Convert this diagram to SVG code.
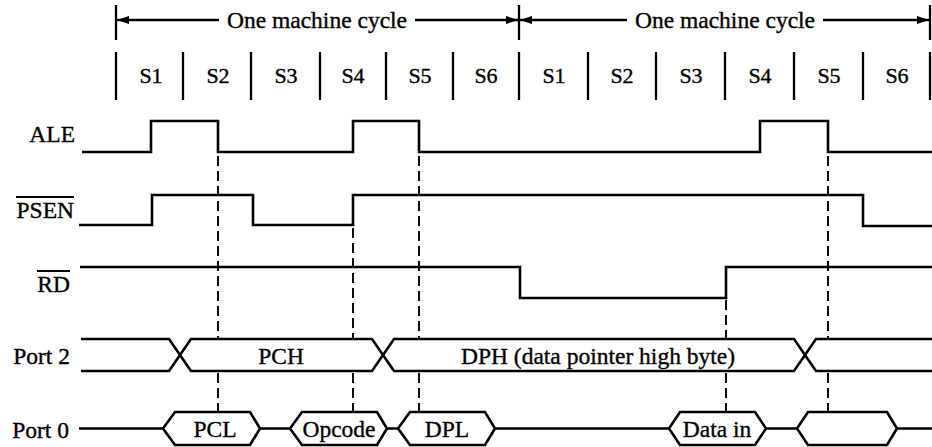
<svg xmlns="http://www.w3.org/2000/svg" width="932" height="447" viewBox="0 0 932 447">
  <style>
    text { font-family: "Liberation Serif", "Times New Roman", serif; fill: #000; stroke: #000; stroke-width: 0.35; }
    .lbl { font-size: 23.5px; }
    .st { font-size: 22px; text-anchor: middle; }
    .mid { text-anchor: middle; }
    .end { text-anchor: end; }
    .sig { fill: none; stroke: #000; stroke-width: 2.6; stroke-linejoin: miter; }
    .tick { stroke: #000; stroke-width: 2.3; }
    .dash { fill: none; stroke: #000; stroke-width: 1.9; stroke-dasharray: 10 5; }
    .ovl { stroke: #000; stroke-width: 1.9; }
  </style>
  <defs>
    <marker id="ah" viewBox="0 0 12 8" refX="12" refY="4" markerWidth="12" markerHeight="8" markerUnits="userSpaceOnUse" orient="auto">
      <path d="M0,0 L12,4 L0,8 Z" fill="#000"/>
    </marker>
  </defs>

  <!-- machine cycle ruler -->
  <g id="cycle-ruler">
    <line class="tick" x1="116" y1="5" x2="116" y2="40"/>
    <line class="tick" x1="519" y1="5" x2="519" y2="40"/>
    <line class="tick" x1="930" y1="5" x2="930" y2="40"/>
    <line class="tick" x1="219" y1="20" x2="117" y2="20" marker-end="url(#ah)"/>
    <line class="tick" x1="415" y1="20" x2="518" y2="20" marker-end="url(#ah)"/>
    <line class="tick" x1="627" y1="20" x2="520" y2="20" marker-end="url(#ah)"/>
    <line class="tick" x1="823" y1="20" x2="929" y2="20" marker-end="url(#ah)"/>
    <text class="lbl mid" x="317" y="28">One machine cycle</text>
    <text class="lbl mid" x="725" y="28">One machine cycle</text>
  </g>

  <!-- state slots S1..S6 -->
  <g id="states">
    <g class="tick">
      <line x1="116" y1="52" x2="116" y2="100"/>
      <line x1="183" y1="52" x2="183" y2="100"/>
      <line x1="251" y1="52" x2="251" y2="100"/>
      <line x1="320" y1="52" x2="320" y2="100"/>
      <line x1="386" y1="52" x2="386" y2="100"/>
      <line x1="453" y1="52" x2="453" y2="100"/>
      <line x1="519" y1="52" x2="519" y2="100"/>
      <line x1="588" y1="52" x2="588" y2="100"/>
      <line x1="656" y1="52" x2="656" y2="100"/>
      <line x1="725" y1="52" x2="725" y2="100"/>
      <line x1="794" y1="52" x2="794" y2="100"/>
      <line x1="863" y1="52" x2="863" y2="100"/>
      <line x1="930" y1="52" x2="930" y2="100"/>
    </g>
    <text class="st" x="151" y="83">S1</text>
    <text class="st" x="218" y="83">S2</text>
    <text class="st" x="286" y="83">S3</text>
    <text class="st" x="353" y="83">S4</text>
    <text class="st" x="420" y="83">S5</text>
    <text class="st" x="486" y="83">S6</text>
    <text class="st" x="554" y="83">S1</text>
    <text class="st" x="622" y="83">S2</text>
    <text class="st" x="691" y="83">S3</text>
    <text class="st" x="760" y="83">S4</text>
    <text class="st" x="829" y="83">S5</text>
    <text class="st" x="897" y="83">S6</text>
  </g>

  <!-- ALE -->
  <g id="sig-ale">
    <text class="lbl end" x="75" y="142">ALE</text>
    <path class="sig" d="M82,152 H151 V121 H218 V152 H353 V121 H419 V152 H760 V121 H828 V152 H932"/>
  </g>

  <!-- PSEN (active low) -->
  <g id="sig-psen">
    <text class="lbl end" x="74" y="218">PSEN</text>
    <line class="ovl" x1="16" y1="197" x2="74" y2="197"/>
    <path class="sig" d="M79,225 H152 V195 H253 V225 H353 V195 H863 V226 H932"/>
  </g>

  <!-- RD (active low) -->
  <g id="sig-rd">
    <text class="lbl end" x="70" y="292">RD</text>
    <line class="ovl" x1="37" y1="271" x2="70" y2="271"/>
    <path class="sig" d="M80,267 H520 V298 H726 V267 H932"/>
  </g>

  <!-- Port 2 bus -->
  <g id="sig-port2">
    <text class="lbl end" x="70" y="364">Port 2</text>
    <path class="sig" d="M81,339 H169 L191,371 H372 L394,339 H794 L816,371 H932"/>
    <path class="sig" d="M81,371 H169 L191,339 H372 L394,371 H794 L816,339 H932"/>
    <text class="lbl mid" x="281" y="364">PCH</text>
    <text class="lbl mid" x="598" y="364">DPH (data pointer high byte)</text>
  </g>

  <!-- Port 0 bus -->
  <g id="sig-port0">
    <text class="lbl end" x="69" y="438">Port 0</text>
    <path class="sig" d="M79,428.5 H163 M260,428.5 H290 M387,428.5 H398 M495,428.5 H669 M766,428.5 H797 M897,428.5 H932"/>
    <path class="sig" d="M163,428.5 L175,412 H250 L260,428.5 L250,445 H175 Z"/>
    <path class="sig" d="M290,428.5 L302,412 H377 L387,428.5 L377,445 H302 Z"/>
    <path class="sig" d="M398,428.5 L410,412 H485 L495,428.5 L485,445 H410 Z"/>
    <path class="sig" d="M669,428.5 L680,412 H755 L766,428.5 L755,445 H680 Z"/>
    <path class="sig" d="M797,428.5 L808,412 H887 L897,428.5 L887,445 H808 Z"/>
    <text class="lbl mid" x="215" y="437">PCL</text>
    <text class="lbl mid" x="339" y="437">Opcode</text>
    <text class="lbl mid" x="447" y="437">DPL</text>
    <text class="lbl mid" x="717" y="437">Data in</text>
  </g>

  <!-- dashed timing references -->
  <g id="connectors">
    <path class="dash" d="M218,156 V338 M218,373 V411"/>
    <path class="dash" d="M353,228 V338 M353,373 V411"/>
    <path class="dash" d="M419,156 V338 M419,373 V411"/>
    <path class="dash" d="M726,300 V338 M726,373 V411"/>
    <path class="dash" d="M828,156 V338 M828,373 V411"/>
  </g>
</svg>
